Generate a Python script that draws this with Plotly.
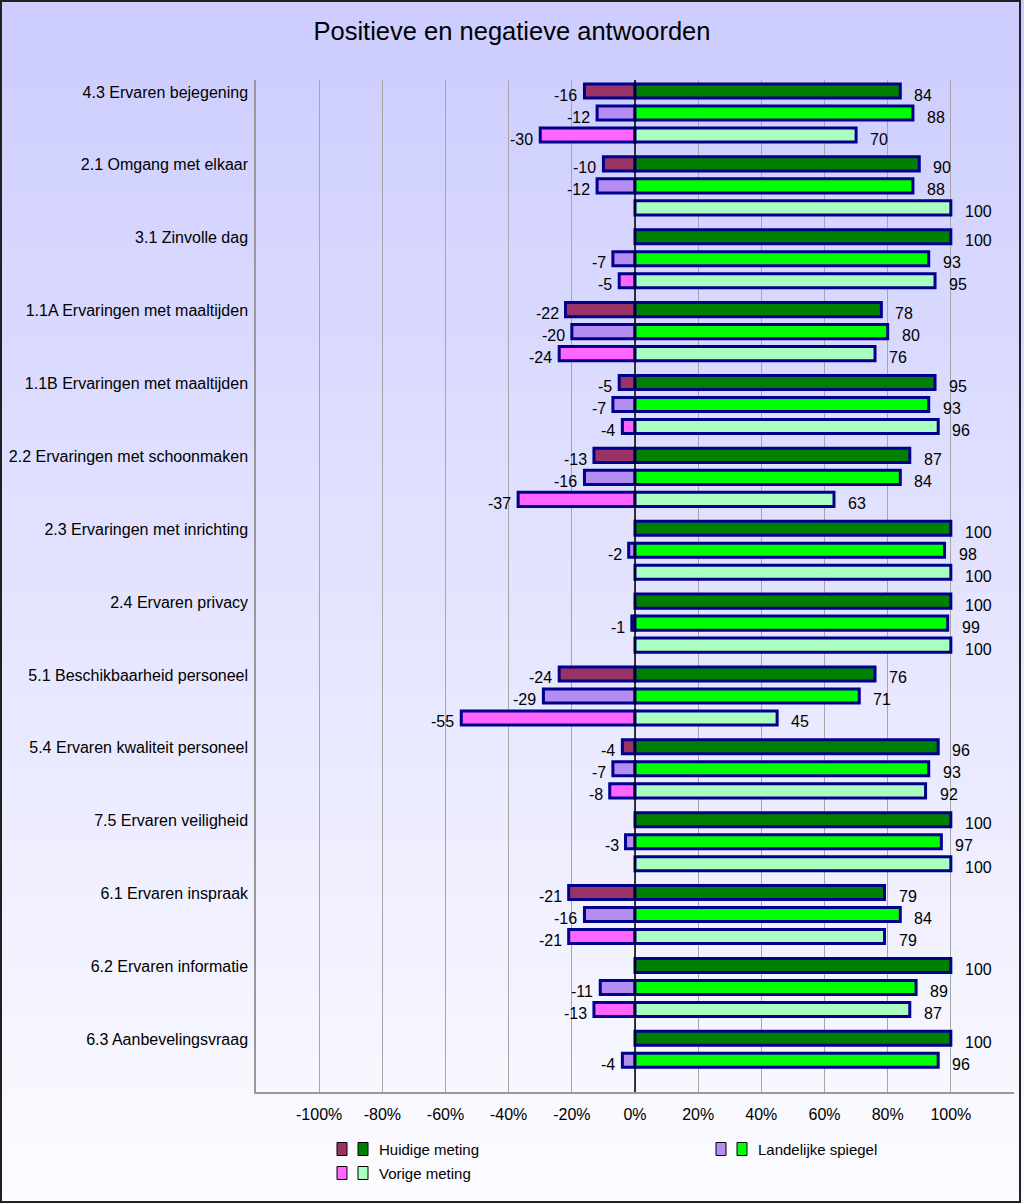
import plotly.graph_objects as go

# ---------------- data ----------------
categories = [
    "4.3 Ervaren bejegening", "2.1 Omgang met elkaar", "3.1 Zinvolle dag",
    "1.1A Ervaringen met maaltijden", "1.1B Ervaringen met maaltijden",
    "2.2 Ervaringen met schoonmaken", "2.3 Ervaringen met inrichting",
    "2.4 Ervaren privacy", "5.1 Beschikbaarheid personeel",
    "5.4 Ervaren kwaliteit personeel", "7.5 Ervaren veiligheid",
    "6.1 Ervaren inspraak", "6.2 Ervaren informatie", "6.3 Aanbevelingsvraag",
]
huidige_neg = [-16, -10, None, -22, -5, -13, None, None, -24, -4, None, -21, None, None]
huidige_pos = [84, 90, 100, 78, 95, 87, 100, 100, 76, 96, 100, 79, 100, 100]
landelijk_neg = [-12, -12, -7, -20, -7, -16, -2, -1, -29, -7, -3, -16, -11, -4]
landelijk_pos = [88, 88, 93, 80, 93, 84, 98, 99, 71, 93, 97, 84, 89, 96]
vorige_neg = [-30, None, -5, -24, -4, -37, None, None, -55, -8, None, -21, -13, None]
vorige_pos = [70, 100, 95, 76, 96, 63, 100, 100, 45, 92, 100, 79, 87, None]
series_names = ["Huidige meting", "Landelijke spiegel", "Vorige meting"]
tick_vals = [-100, -80, -60, -40, -20, 0, 20, 40, 60, 80, 100]
tick_text = ["-100%", "-80%", "-60%", "-40%", "-20%", "0%", "20%", "40%", "60%", "80%", "100%"]

# ---------------- styling ----------------
W, H = 1024, 1204
ML, MR, MT, MB = 256, 10, 80, 112
PW, PH = W - ML - MR, H - MT - MB
FONT = "Arial, Liberation Sans, sans-serif"
OUTLINE = "#00008c"
GRID = "#a6a6a6"
colors = [("#993366", "#008000"), ("#b48cf2", "#00ff00"), ("#ff66ff", "#aaffc0")]
series = [(huidige_neg, huidige_pos), (landelijk_neg, landelijk_pos), (vorige_neg, vorige_pos)]
slot_shift = [22, 0, -22]  # pixel offset of each slot relative to category centre (up positive)


def px_x(px):
    return (px - ML) / PW


def px_y(py):
    return (H - MB - py) / PH


fig = go.Figure()
for i, ((neg, pos), (cn, cp)) in enumerate(zip(series, colors)):
    for vals, col in ((neg, cn), (pos, cp)):
        fig.add_trace(go.Bar(
            y=categories, x=vals, orientation="h", name=series_names[i],
            offsetgroup=str(i + 1), marker=dict(color=col, line=dict(color=OUTLINE, width=3)),
            showlegend=False, hoverinfo="x+y",
        ))

annotations = []
# value labels
for i, (neg, pos) in enumerate(series):
    for cat, v in zip(categories, neg):
        if v is not None:
            annotations.append(dict(x=v, y=cat, xref="x", yref="y", text=str(v), showarrow=False,
                                    xanchor="right", yanchor="middle", xshift=-5, yshift=slot_shift[i] - 4,
                                    font=dict(size=16, color="black", family=FONT)))
    for cat, v in zip(categories, pos):
        if v is not None:
            annotations.append(dict(x=v, y=cat, xref="x", yref="y", text=str(v), showarrow=False,
                                    xanchor="left", yanchor="middle", xshift=12, yshift=slot_shift[i] - 4,
                                    font=dict(size=16, color="black", family=FONT)))

shapes = []
# background gradient
NB = 120
top_c, bot_c = (204, 204, 255), (252, 252, 255)
for k in range(NB):
    t = (k + 0.5) / NB
    c = tuple(round(a + (b - a) * t) for a, b in zip(top_c, bot_c))
    y0 = H * k / NB
    y1 = H * (k + 1) / NB + 1
    shapes.append(dict(type="rect", xref="paper", yref="paper", layer="below",
                       x0=px_x(0), x1=px_x(W), y0=px_y(y1), y1=px_y(y0),
                       line=dict(width=0), fillcolor="rgb(%d,%d,%d)" % c))
# zero line
shapes.append(dict(type="line", xref="x", yref="paper", x0=0, x1=0, y0=0, y1=1,
                   line=dict(color="black", width=1.5), layer="above"))
# outer border
shapes.append(dict(type="rect", xref="paper", yref="paper", layer="above",
                   x0=px_x(1), x1=px_x(W - 4), y0=px_y(H - 2), y1=px_y(1),
                   line=dict(color="#202020", width=2), fillcolor="rgba(0,0,0,0)"))

# custom legend
legend_pos = [(337, 1149), (716, 1149), (337, 1173)]
for i, (lx, ly) in enumerate(legend_pos):
    for j, col in enumerate(colors[i]):
        x0 = lx + j * 21
        shapes.append(dict(type="rect", xref="paper", yref="paper", layer="above",
                           x0=px_x(x0), x1=px_x(x0 + 10), y0=px_y(ly + 6.5), y1=px_y(ly - 6.5),
                           line=dict(color="black", width=1), fillcolor=col))
    annotations.append(dict(x=px_x(lx + 40), y=px_y(ly), xref="paper", yref="paper",
                            text=series_names[i], showarrow=False, xanchor="left", yanchor="middle",
                            font=dict(size=15, color="black", family=FONT)))

fig.update_layout(
    width=W, height=H, autosize=False,
    margin=dict(l=ML, r=MR, t=MT, b=MB, pad=0),
    paper_bgcolor="white", plot_bgcolor="rgba(0,0,0,0)",
    barmode="group", bargap=0.094, bargroupgap=0.36,
    showlegend=False,
    font=dict(family=FONT, color="black", size=16),
    title=dict(text="Positieve en negatieve antwoorden", x=0.5, xref="container", xanchor="center",
               y=1 - 31 / H, yref="container", yanchor="middle",
               font=dict(size=25.5, color="black", family=FONT)),
    xaxis=dict(range=[-120, 120], tickvals=tick_vals, ticktext=tick_text, showgrid=True,
               gridcolor=GRID, gridwidth=1, zeroline=False, showline=True, linecolor="#999999",
               linewidth=1.5, ticks="", tickfont=dict(size=16, color="black"), ticklabelstandoff=7,
               fixedrange=True, automargin=False),
    yaxis=dict(type="category", categoryorder="array", categoryarray=categories,
               range=[13.435, -0.453], showgrid=False, zeroline=False, showline=True,
               linecolor="#999999", linewidth=1.5, ticks="", tickfont=dict(size=16, color="black"),
               ticklabelshift=21, ticklabelstandoff=3, fixedrange=True, automargin=False),
    shapes=shapes, annotations=annotations,
)

fig.write_html(
    "out.html",
    config={"displayModeBar": False},
    post_script="document.body.style.margin='0';document.body.style.overflow='hidden';",
)
